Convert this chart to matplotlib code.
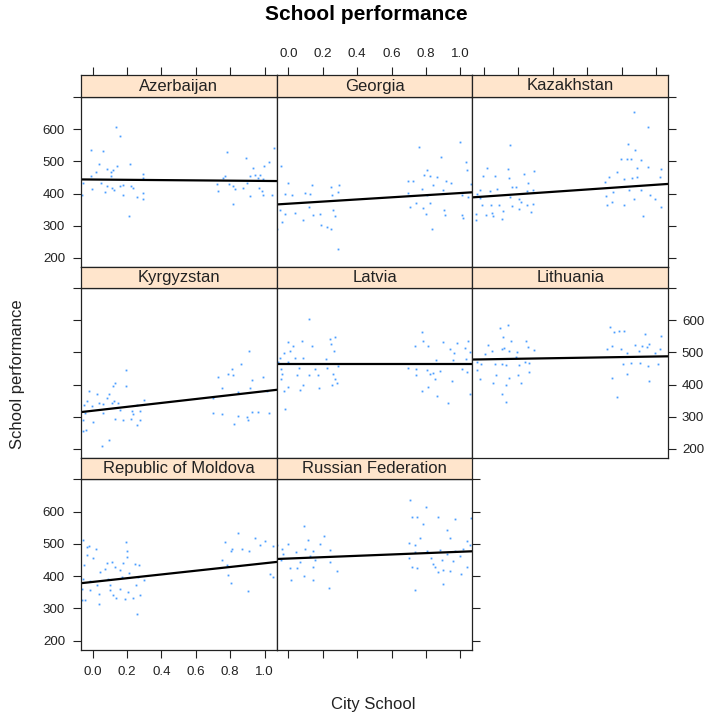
import matplotlib
matplotlib.use("Agg")
import matplotlib.pyplot as plt

plt.rcParams['font.family'] = ['Liberation Sans', 'DejaVu Sans']

countries = ['Azerbaijan', 'Georgia', 'Kazakhstan', 'Kyrgyzstan', 'Latvia',
             'Lithuania', 'Republic of Moldova', 'Russian Federation']

# fitted line for each country: performance = intercept + slope * city
line_intercept = [443.7, 368.3, 390.6, 318.3, 463.0, 478.6, 382.0, 454.5]
line_slope = [-4.4, 33.3, 36.8, 61.0, 0.0, 8.8, 57.9, 21.0]

# jittered student scores (x = city school, y = performance)
aze_x = [0.134, 0.159, -0.012, 0.062, 0.779, 1.056, 0.889, 0.039, 0.217, 1.025, 0.996, 0.930,
         0.081, 0.120, 0.140, 0.019, -0.012, 0.104, 0.106, 0.290, 0.290, 0.771, 0.756, 0.914,
         0.944, 0.975, 0.963, 0.992, -0.054, 0.047, 0.081, 0.110, 0.124, 0.159, 0.178, 0.221,
         0.236, -0.006, 0.072, 0.178, 0.256, 0.290, 0.290, -0.064, 0.209, 0.721, 0.731, 0.795,
         0.818, 0.828, 0.872, 0.899, 0.969, 0.983, 1.041, 0.914, 0.814, 0.992]
aze_y = [606, 578, 535, 532, 529, 542, 511, 493, 493, 497, 487, 480,
         476, 474, 487, 467, 456, 466, 456, 462, 448, 456, 448, 454,
         457, 459, 448, 445, 433, 433, 423, 416, 411, 425, 427, 425,
         418, 413, 404, 396, 389, 402, 384, 395, 331, 431, 407, 431,
         425, 414, 418, 432, 417, 409, 396, 393, 368, 396]

geo_x = [0.998, 0.759, 0.885, -0.043, 1.033, 0.808, 0.788, 0.823, 0.862, 0.697, 0.722, 0.843,
         0.916, 0.944, 1.036, 1.061, -0.001, 0.135, 0.294, 0.246, -0.018, 0.019, 0.097, 0.126,
         0.252, 0.290, 0.697, 0.775, 0.804, 0.901, 1.008, 1.046, 0.742, 0.823, 0.707, -0.049,
         -0.020, 0.038, 0.083, 0.122, 0.141, 0.184, 0.258, 0.271, 0.785, 0.800, 0.905, 0.911,
         1.008, -0.064, -0.039, 0.188, 0.226, 0.248, 0.290, 0.833, 1.017]
geo_y = [560, 545, 514, 487, 497, 474, 458, 456, 453, 439, 439, 428,
         439, 434, 474, 431, 433, 427, 427, 420, 400, 394, 402, 400,
         397, 404, 402, 414, 394, 411, 396, 390, 369, 369, 358, 350,
         335, 340, 319, 358, 333, 337, 350, 329, 356, 337, 350, 333,
         333, 290, 311, 302, 297, 289, 228, 289, 325]

kaz_x = [0.873, 0.951, 0.150, 0.835, 0.881, 0.829, 0.794, 0.852, 0.911, 0.951, 0.888, 1.032,
         0.015, 0.141, 0.292, 0.234, -0.008, 0.064, 0.147, 0.771, 0.728, 0.703, 0.817, 0.861,
         0.888, 1.023, 0.160, 0.189, -0.024, 0.034, 0.073, 0.257, 0.248, 0.283, -0.043, -0.024,
         0.150, 0.205, 0.218, 0.709, 0.748, 0.844, 0.915, 0.964, 0.873, 0.993, 0.742, 0.713,
         0.815, 1.027, -0.014, 0.038, 0.088, 0.164, 0.248, 0.286, 0.205, 0.108, -0.047, 0.044,
         0.276, 0.011, 0.050, 0.102, -0.047, 0.922]
kaz_y = [653, 607, 552, 556, 536, 507, 507, 507, 505, 484, 480, 478,
         481, 476, 471, 461, 454, 456, 448, 466, 451, 437, 445, 449,
         452, 452, 420, 419, 411, 408, 414, 433, 408, 412, 400, 386,
         389, 384, 375, 393, 404, 412, 412, 396, 384, 384, 375, 365,
         365, 357, 365, 365, 365, 361, 365, 368, 351, 346, 337, 340,
         343, 334, 330, 322, 317, 330]

kgz_x = [0.911, 0.861, 0.194, 0.808, 0.789, 0.814, 0.727, 0.992, 0.925, 0.130, 0.194, 0.120,
         0.750, 0.914, -0.020, 0.097, 0.023, 0.081, 0.124, 0.149, 0.298, -0.031, 0.039, 0.256,
         0.698, 0.847, 1.011, -0.051, -0.006, 0.062, 0.110, 0.159, 0.227, 0.275, -0.045, 0.058,
         0.236, 0.702, 0.752, 0.925, 0.963, 1.027, 0.847, 0.895, 0.130, 0.178, 0.221, 0.275,
         -0.054, 0.000, 0.901, 0.822, 0.260, -0.058, -0.038, 0.097, 0.052]
kgz_y = [504, 465, 445, 448, 434, 431, 424, 425, 415, 406, 397, 395,
         390, 388, 381, 369, 369, 357, 348, 341, 351, 348, 342, 335,
         357, 378, 380, 335, 333, 340, 342, 322, 319, 319, 312, 312,
         308, 312, 308, 313, 315, 312, 302, 299, 292, 289, 294, 289,
         289, 283, 289, 278, 273, 254, 257, 227, 209]

lva_x = [0.122, 0.778, 0.271, 0.000, 0.077, 0.242, 0.784, 0.248, 0.136, 0.025, 0.813, 0.736,
         0.897, 0.982, 1.046, -0.023, 0.012, 0.038, 0.083, -0.049, 0.219, 0.265, 0.939, 1.027,
         0.965, 1.056, 0.858, 0.955, 1.032, -0.059, 0.000, -0.045, 0.064, 0.155, 0.223, 0.290,
         0.697, 0.742, 0.804, 0.843, 0.882, 1.008, 1.041, -0.039, 0.048, 0.122, 0.174, 0.258,
         0.742, 0.823, -0.045, 0.271, 0.852, 0.083, 0.000, 0.252, 0.949, 0.178, 0.813, 0.068,
         -0.023, 0.775, 0.285, 0.866, 1.056, 0.930, -0.020]
lva_y = [603, 564, 548, 532, 536, 541, 536, 525, 520, 519, 520, 519,
         532, 529, 536, 497, 505, 483, 483, 483, 481, 505, 512, 515,
         498, 503, 476, 476, 481, 469, 469, 450, 452, 450, 452, 458,
         452, 450, 444, 437, 441, 450, 439, 434, 429, 431, 429, 434,
         431, 434, 417, 418, 417, 398, 392, 400, 410, 390, 392, 384,
         379, 380, 406, 365, 370, 343, 325]

ltu_x = [0.141, 0.093, 0.732, 0.108, 0.755, 0.786, 0.815, 0.935, 1.028, 0.156, 0.243, 0.026,
         0.745, 0.713, 0.253, 0.961, 0.916, 0.949, 0.102, 0.116, 0.046, 0.147, 0.290, 0.191,
         0.796, 0.877, 0.900, 1.023, 0.829, 0.993, -0.043, -0.019, 0.007, 0.189, 0.238, 0.263,
         0.064, 0.102, 0.126, 0.205, 0.810, 0.852, 0.906, 0.955, 1.013, -0.043, 0.261, 0.069,
         0.199, 0.829, 0.742, -0.024, 0.147, 0.050, 0.215, 0.961, 0.127, 0.102, 0.771, 0.127]
ltu_y = [587, 577, 580, 548, 565, 567, 568, 557, 550, 537, 537, 523,
         520, 512, 516, 526, 520, 516, 510, 514, 504, 504, 507, 500,
         512, 524, 505, 512, 497, 497, 470, 465, 496, 485, 470, 468,
         463, 463, 460, 460, 463, 468, 466, 459, 463, 444, 439, 431,
         429, 434, 421, 417, 420, 404, 404, 410, 398, 372, 360, 346]

mda_x = [0.847, -0.054, 0.193, 0.769, 1.000, 0.944, -0.035, -0.020, 0.198, 0.019, 0.808, 0.802,
         0.867, 0.911, 0.970, 1.047, -0.035, 0.202, 0.004, 0.081, 0.110, 0.178, 0.246, 0.750,
         0.779, 0.071, 0.129, 0.271, -0.050, 0.042, 0.158, 0.212, 0.789, 1.031, 1.050, -0.054,
         -0.015, 0.091, 0.169, 0.266, 0.023, 0.101, 0.298, 0.802, -0.064, -0.015, 0.101, 0.158,
         0.207, 0.250, 0.039, 0.120, 0.188, 0.236, 0.275, 0.905, 0.136, -0.064, -0.045, 0.039,
         0.260]
mda_y = [533, 512, 507, 507, 510, 518, 490, 493, 477, 485, 483, 477,
         483, 479, 497, 494, 465, 460, 456, 442, 444, 442, 439, 449,
         435, 423, 428, 433, 433, 413, 418, 411, 404, 408, 396, 392,
         384, 392, 397, 397, 373, 371, 387, 380, 361, 356, 356, 359,
         351, 374, 346, 340, 330, 332, 340, 355, 332, 327, 325, 314,
         283]

rus_x = [0.707, 0.798, 0.717, 0.746, 0.868, 0.969, 1.060, 0.785, 0.091, 0.920, 0.116, 0.765,
         0.701, 0.940, 1.037, 0.184, 0.209, -0.064, 0.000, -0.039, 0.097, 0.145, 0.242, 0.736,
         0.804, 0.882, 0.969, 1.017, 1.056, -0.029, 0.044, 0.126, 0.736, 0.920, 0.998, -0.045,
         0.068, 0.155, 0.242, 0.703, 0.829, 0.843, 0.891, 0.959, 0.009, 0.048, 0.145, 0.281,
         0.717, 0.746, 0.853, 0.901, 0.940, 1.037, 0.092, 0.145, 0.013, 1.006, 0.872, 0.901,
         0.236, 0.736]
rus_y = [637, 613, 583, 583, 583, 577, 580, 560, 554, 542, 512, 518,
         504, 518, 510, 500, 523, 495, 498, 484, 484, 479, 481, 495,
         479, 481, 479, 484, 495, 470, 475, 463, 475, 469, 461, 450,
         444, 450, 444, 455, 455, 439, 450, 447, 424, 424, 427, 416,
         427, 424, 427, 420, 416, 429, 399, 389, 389, 406, 413, 375,
         364, 357]

xs = [aze_x, geo_x, kaz_x, kgz_x, lva_x, ltu_x, mda_x, rus_x]
ys = [aze_y, geo_y, kaz_y, kgz_y, lva_y, ltu_y, mda_y, rus_y]

x_ticks = [0.0, 0.2, 0.4, 0.6, 0.8, 1.0]
y_ticks = [200, 300, 400, 500, 600, 700]
y_ticklabels = ['200', '300', '400', '500', '600', '']
xlim = (-0.068, 1.07)
ylim = (171, 701)

W, H = 707, 719
fig = plt.figure(figsize=(W / 100, H / 100), dpi=100)


def box(x0, y0, x1, y1):
    return [x0 / W, 1 - y1 / H, (x1 - x0) / W, (y1 - y0) / H]


col_left = [81, 276.7, 472.3]
col_w = 195.7
strip_top = [75, 267, 458]
panel_top = [97, 288, 479]
panel_bot = [267, 458, 650]

tick_kw = dict(direction='out', length=5.5, width=0.8, labelsize=9.6, colors='#222222', pad=6)
strip_bg = '#ffe5cc'

for i, name in enumerate(countries):
    row, col = divmod(i, 3)
    x0 = col_left[col]
    ax = fig.add_axes(box(x0, panel_top[row], x0 + col_w, panel_bot[row]))
    st = fig.add_axes(box(x0, strip_top[row], x0 + col_w, panel_top[row]))

    ax.plot(xs[i], ys[i], 's', ms=1.3, mew=0, color='#2b8cff', alpha=0.85)
    lx = [xlim[0], xlim[1]]
    ax.plot(lx, [line_intercept[i] + line_slope[i] * v for v in lx], color='black', lw=1.6)
    ax.set_xlim(xlim)
    ax.set_ylim(ylim)

    st.set_facecolor(strip_bg)
    st.set_xlim(xlim)
    st.set_ylim(0, 1)
    st.text(0.5, 0.5, name, transform=st.transAxes, ha='center', va='center',
            fontsize=12, color='#222222')
    st.set_yticks([])

    for a in (ax, st):
        for s in a.spines.values():
            s.set_linewidth(0.9)
            s.set_color('#222222')

    # y axes: left on first column, right on the last panel of each row
    last_in_row = (col == 2) or (i == len(countries) - 1)
    ax.set_yticks(y_ticks)
    ax.set_yticklabels(y_ticklabels)
    ax.tick_params(axis='y', left=(col == 0), right=last_in_row,
                   labelleft=(col == 0 and row != 1), labelright=(last_in_row and row == 1),
                   **tick_kw)
    ax.tick_params(axis='y', which='major', pad=4.5 if row == 1 else 6)

    # x axes: bottom under the last row, top above the first row strips
    ax.set_xticks(x_ticks)
    ax.set_xticklabels(['%.1f' % v for v in x_ticks])
    bottom = (row == 2)
    ax.tick_params(axis='x', bottom=bottom, top=False, labelbottom=(bottom and col == 0),
                   labeltop=False, **tick_kw)
    st.set_xticks(x_ticks)
    st.set_xticklabels(['%.1f' % v for v in x_ticks])
    top = (row == 0)
    st.tick_params(axis='x', bottom=False, labelbottom=False, top=top,
                   labeltop=(top and col == 1), **tick_kw)
    st.tick_params(axis='x', pad=5)

fig.text(366.7 / W, 1 - 15 / H, 'School performance', ha='center', va='center',
         fontsize=15, fontweight='bold', color='black')
fig.text(18 / W, 1 - 374 / H, 'School performance', ha='center', va='center',
         rotation=90, fontsize=12, color='#222222')
fig.text(373 / W, 1 - 705 / H, 'City School', ha='center', va='center',
         fontsize=12, color='#222222')

fig.savefig('out.png', dpi=100)
